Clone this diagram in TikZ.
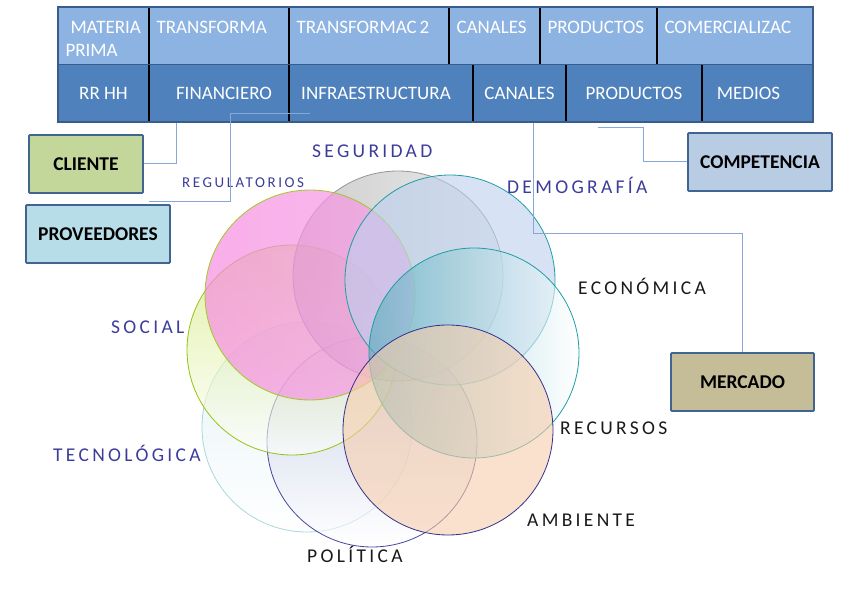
\documentclass[tikz,border=0pt]{standalone}
\usepackage{fontspec}
\setmainfont{Carlito}
\newfontfamily\spacedfont[LetterSpace=17]{Carlito}
\usetikzlibrary{positioning}
\definecolor{rowtop}{RGB}{141,179,226}
\definecolor{rowbot}{RGB}{79,129,189}
\definecolor{tabframe}{RGB}{56,93,138}
\definecolor{boxframe}{RGB}{65,100,145}
\definecolor{linkblue}{RGB}{135,168,214}
\definecolor{labelblue}{RGB}{60,60,155}
\definecolor{labelblack}{RGB}{25,25,25}
\definecolor{clientefill}{RGB}{196,215,155}
\definecolor{provfill}{RGB}{183,221,232}
\definecolor{compfill}{RGB}{184,204,228}
\definecolor{mercfill}{RGB}{196,189,151}
\definecolor{socialfill}{RGB}{205,230,105}
\definecolor{socialedge}{RGB}{150,195,20}
\definecolor{regfill}{RGB}{246,140,224}
\definecolor{regedge}{RGB}{160,200,40}
\definecolor{segleft}{RGB}{172,172,172}
\definecolor{segright}{RGB}{222,222,222}
\definecolor{segedge}{RGB}{150,150,150}
\definecolor{demofill}{RGB}{188,208,238}
\definecolor{tealedge}{RGB}{30,158,162}
\definecolor{ecofill}{RGB}{80,172,188}
\definecolor{tecfill}{RGB}{210,233,240}
\definecolor{tecedge}{RGB}{170,215,220}
\definecolor{polfill}{RGB}{180,187,222}
\definecolor{poledge}{RGB}{70,70,160}
\definecolor{ambfill}{RGB}{247,205,172}
\definecolor{ambedge}{RGB}{50,50,140}
\newcommand\cellstrut{\rule{0pt}{19pt}}

\tikzset{
  topcell/.style={fill=rowtop, minimum height=57pt, inner xsep=7.5pt, inner ysep=0pt,
    outer sep=0pt, align=left, text=white, font=\fontsize{19}{23}\selectfont},
  botcell/.style={fill=rowbot, minimum height=58pt, inner sep=0pt, outer sep=0pt,
    align=center, text=white, font=\fontsize{19}{23}\selectfont},
  divider/.style={black, line width=1.6pt},
  sidebox/.style={draw=boxframe, line width=1.8pt, rounded corners=1pt,
    minimum height=58pt, inner sep=0pt, font=\fontsize{19.5}{23}\selectfont\bfseries},
  link/.style={linkblue, line width=1pt},
  ring/.style={fill opacity=0.6},
  ringedge/.style={line width=0.8pt},
  bluelabel/.style={anchor=base west, inner sep=0pt, text=labelblue,
    font=\fontsize{19.5}{22}\spacedfont},
  blacklabel/.style={anchor=base west, inner sep=0pt, text=labelblack,
    font=\fontsize{19.5}{22}\spacedfont}
}

\begin{document}
\begin{tikzpicture}[x=1pt, y=-1pt]
  \useasboundingbox (0,0) rectangle (852,593);

  % circles
  \shade[ring, top color=tecfill, bottom color=white] (307,427) circle (105pt);
  \draw[ringedge, tecedge] (307,427) circle (105pt);
  \shade[ring, top color=polfill, bottom color=white] (372,442) circle (105pt);
  \draw[ringedge, poledge] (372,442) circle (105pt);
  \shade[ring, top color=socialfill, bottom color=white] (292,350) circle (105pt);
  \draw[ringedge, socialedge] (292,350) circle (105pt);
  \shade[ring, left color=segleft, right color=segright] (398,276) circle (105pt);
  \draw[ringedge, segedge] (398,276) circle (105pt);
  \shade[ring, fill opacity=0.7, left color=regfill, right color=regfill!85!white] (310,295) circle (105pt);
  \draw[ringedge, regedge] (310,295) circle (105pt);
  \fill[ring, demofill] (450,280) circle (105pt);
  \draw[ringedge, tealedge] (450,280) circle (105pt);
  \shade[ring, left color=ecofill, right color=white] (474,353) circle (105pt);
  \draw[ringedge, tealedge] (474,353) circle (105pt);
  \fill[ring, ambfill] (448,430) circle (105pt);
  \draw[ringedge, ambedge] (448,430) circle (105pt);

  % labels
  \node[bluelabel] (seguridad) at (312,158) {SEGURIDAD};
  \node[bluelabel, font=\fontsize{15}{17}\spacedfont] (regulatorios) at (182,188) {REGULATORIOS};
  \node[bluelabel] (demografia) at (507,194) {DEMOGRAFÍA};
  \node[blacklabel] (economica) at (578,295) {ECONÓMICA};
  \node[bluelabel] (social) at (111,334) {SOCIAL};
  \node[blacklabel] (recursos) at (560,435) {RECURSOS};
  \node[bluelabel] (tecnologica) at (53,462) {TECNOLÓGICA};
  \node[blacklabel] (ambiente) at (527,527) {AMBIENTE};
  \node[blacklabel] (politica) at (307,562) {POLÍTICA};

  % table, upper row
  \node[topcell, anchor=north west, text width=76pt] (mp) at (58,7)
    {\cellstrut\hspace*{5pt}MATERIA\\PRIMA};
  \node[topcell, right=0pt of mp, text width=125pt] (tra) {\cellstrut TRANSFORMA\\\mbox{}};
  \node[topcell, right=0pt of tra, text width=145pt] (trb) {\cellstrut TRANSFORMAC\hspace{3pt}2\\\mbox{}};
  \node[topcell, right=0pt of trb, text width=76pt] (cana) {\cellstrut CANALES\\\mbox{}};
  \node[topcell, right=0pt of cana, text width=102pt] (proa) {\cellstrut PRODUCTOS\\\mbox{}};
  \node[topcell, right=0pt of proa, text width=141pt] (com) {\cellstrut COMERCIALIZAC\\\mbox{}};

  % table, lower row
  \node[botcell, anchor=north west, minimum width=91pt] (rrhh) at (58,64) {RR HH};
  \node[botcell, right=0pt of rrhh, minimum width=140pt] (fin) {\hspace*{10pt}FINANCIERO};
  \node[botcell, right=0pt of fin, minimum width=184pt] (inf) {INFRAESTRUCTURA\hspace*{10pt}};
  \node[botcell, right=0pt of inf, minimum width=93pt] (canb) {CANALES};
  \node[botcell, right=0pt of canb, minimum width=136pt] (prob) {PRODUCTOS};
  \node[botcell, right=0pt of prob, minimum width=111pt] (med) {MEDIOS\hspace*{18pt}};

  \foreach \c in {mp,tra,trb,cana,proa,rrhh,fin,inf,canb,prob}
    \draw[divider] (\c.north east) -- (\c.south east);
  \draw[tabframe, line width=0.8pt] (rrhh.north west) -- (med.north east);
  \draw[tabframe, line width=1.5pt] (mp.north west) rectangle (med.south east);

  % side boxes
  \node[sidebox, fill=clientefill, minimum width=114pt] (cliente) at (86,164) {CLIENTE};
  \node[sidebox, fill=provfill, minimum width=144pt] (proveedores) at (98,234) {PROVEEDORES};
  \node[sidebox, fill=compfill, minimum width=144pt] (competencia) at (760,162) {COMPETENCIA};
  \node[sidebox, fill=mercfill, minimum width=143pt] (mercado) at (742.5,382) {MERCADO};

  % connectors
  \coordinate (cl) at (176,123);
  \coordinate (pa) at (149,202);
  \coordinate (pb) at (230,114);
  \coordinate (pc) at (310,114);
  \coordinate (ka) at (643,128);
  \coordinate (kb) at (598,128);
  \coordinate (ma) at (533,234);
  \coordinate (mb) at (533,123);
  \draw[link] (cliente.east) -| (cl);
  \draw[link] (pa) -| (pb) -- (pc);
  \draw[link] (competencia.west) -| (ka) -- (kb);
  \draw[link] (mercado.north) |- (ma) -- (mb);
\end{tikzpicture}
\end{document}
